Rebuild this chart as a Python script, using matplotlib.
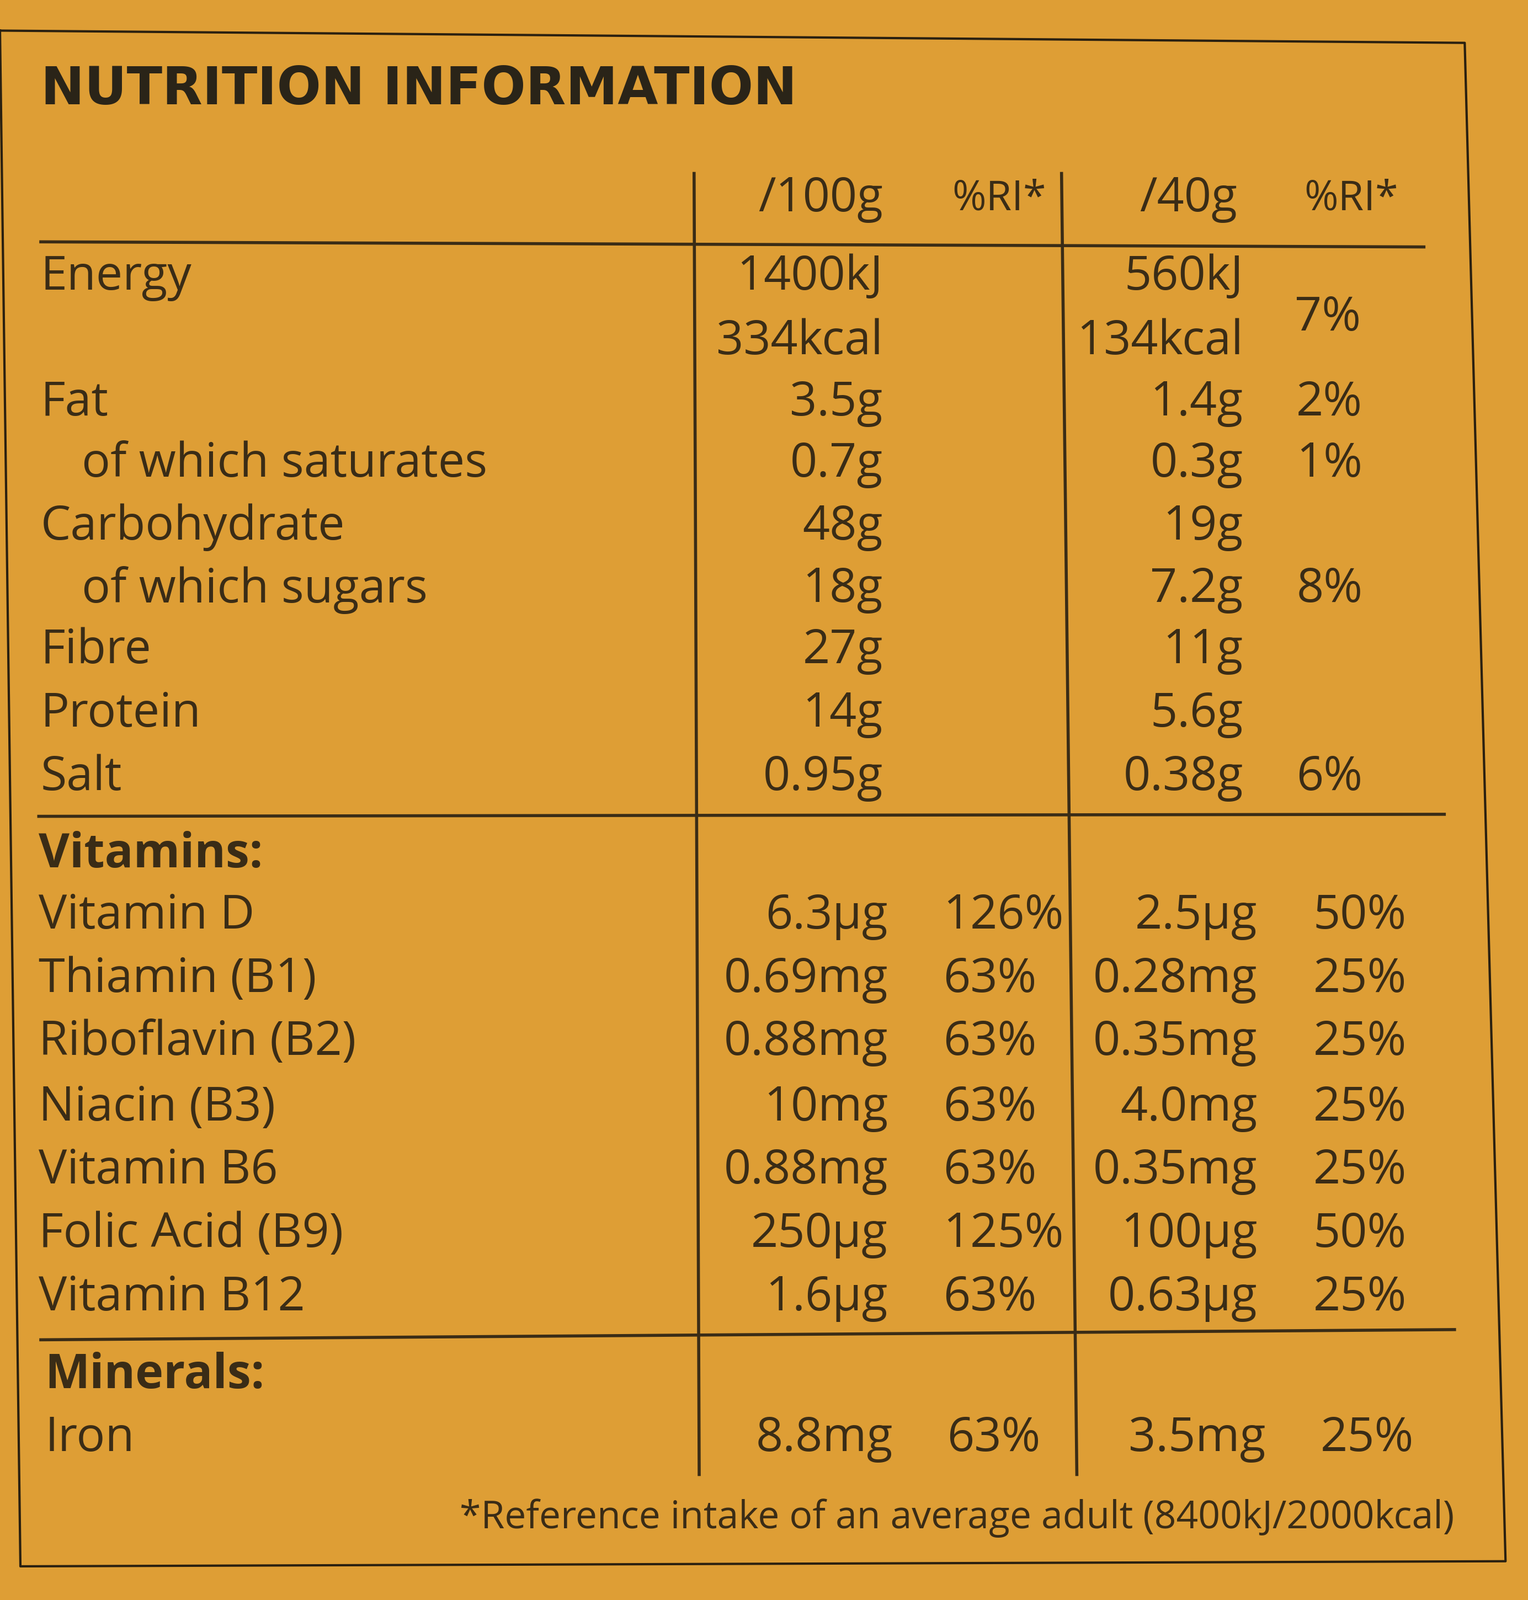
import matplotlib
matplotlib.use("Agg")
import matplotlib.pyplot as plt

title = "NUTRITION INFORMATION"
headers = ["/100g", "%RI*", "/40g", "%RI*"]
nutrients = ["Energy", "", "Fat", "of which saturates", "Carbohydrate", "of which sugars",
             "Fibre", "Protein", "Salt"]
per100 = ["1400kJ", "334kcal", "3.5g", "0.7g", "48g", "18g", "27g", "14g", "0.95g"]
per40 = ["560kJ", "134kcal", "1.4g", "0.3g", "19g", "7.2g", "11g", "5.6g", "0.38g"]
ri40 = ["", "", "2%", "1%", "", "8%", "", "", "6%"]
energy_ri = "7%"
vitamins = ["Vitamin D", "Thiamin (B1)", "Riboflavin (B2)", "Niacin (B3)", "Vitamin B6",
            "Folic Acid (B9)", "Vitamin B12"]
vit100 = ["6.3µg", "0.69mg", "0.88mg", "10mg", "0.88mg", "250µg", "1.6µg"]
vitri100 = ["126%", "63%", "63%", "63%", "63%", "125%", "63%"]
vit40 = ["2.5µg", "0.28mg", "0.35mg", "4.0mg", "0.35mg", "100µg", "0.63µg"]
vitri40 = ["50%", "25%", "25%", "25%", "25%", "50%", "25%"]
minerals = ["Iron"]
min100 = ["8.8mg"]
minri100 = ["63%"]
min40 = ["3.5mg"]
minri40 = ["25%"]
footnote = "*Reference intake of an average adult (8400kJ/2000kcal)"

BG = "#DE9E35"
FG = "#3A2C16"
FONT = "Open Sans"

fig = plt.figure(figsize=(27.69, 29.0), dpi=100, facecolor=BG)
ax = fig.add_axes([0, 0, 1, 1])
ax.set_facecolor(BG)
ax.set_xlim(0, 1497)
ax.set_ylim(1568, 0)
ax.axis("off")

FS = 62
kw = dict(color=FG, family=FONT, fontsize=FS, va="center")

# border
ax.plot([0, 1435, 1475, 20, 0], [30, 42, 1530, 1535, 30], color="#2a2010", lw=3)

ax.text(40, 88, title, color="#2a2418", family="DejaVu Sans", fontsize=68,
        fontweight="bold", va="center")

# header
ax.text(865, 195, headers[0], ha="right", **kw)
ax.text(1025, 195, headers[1], ha="right", **{**kw, "fontsize": 54})
ax.text(1212, 195, headers[2], ha="right", **kw)
ax.text(1370, 195, headers[3], ha="right", **{**kw, "fontsize": 54})

# lines
lw = 4
ax.plot([680, 685], [170, 1445], color=FG, lw=lw)
ax.plot([1040, 1055], [170, 1445], color=FG, lw=lw)
ax.plot([40, 1395], [237, 242], color=FG, lw=lw)
ax.plot([38, 1415], [800, 798], color=FG, lw=lw)
ax.plot([40, 1425], [1313, 1303], color=FG, lw=lw)

ys = [272, 335, 395, 455, 517, 578, 638, 700, 762]
for i, y in enumerate(ys):
    name = nutrients[i]
    x = 80 if name.startswith("of which") else 40
    if name:
        ax.text(x, y, name, ha="left", **kw)
    ax.text(865, y, per100[i], ha="right", **kw)
    ax.text(1218, y, per40[i], ha="right", **kw)
    if ri40[i]:
        ax.text(1335, y, ri40[i], ha="right", **kw)
ax.text(1333, 312, energy_ri, ha="right", **kw)

ax.text(38, 838, "Vitamins:", ha="left", fontweight="bold", **kw)
vys = [898, 960, 1022, 1086, 1148, 1210, 1272]
for i, y in enumerate(vys):
    ax.text(38, y, vitamins[i], ha="left", **kw)
    ax.text(870, y, vit100[i], ha="right", **kw)
    ax.text(924, y, vitri100[i], ha="left", **kw)
    ax.text(1232, y, vit40[i], ha="right", **kw)
    ax.text(1378, y, vitri40[i], ha="right", **kw)

ax.text(44, 1348, "Minerals:", ha="left", fontweight="bold", **kw)
for i, y in enumerate([1410]):
    ax.text(44, y, minerals[i], ha="left", **kw)
    ax.text(875, y, min100[i], ha="right", **kw)
    ax.text(928, y, minri100[i], ha="left", **kw)
    ax.text(1240, y, min40[i], ha="right", **kw)
    ax.text(1385, y, minri40[i], ha="right", **kw)

ax.text(1425, 1488, footnote, ha="right", **{**kw, "fontsize": 50})

fig.savefig("out.png", dpi=100, facecolor=BG)
